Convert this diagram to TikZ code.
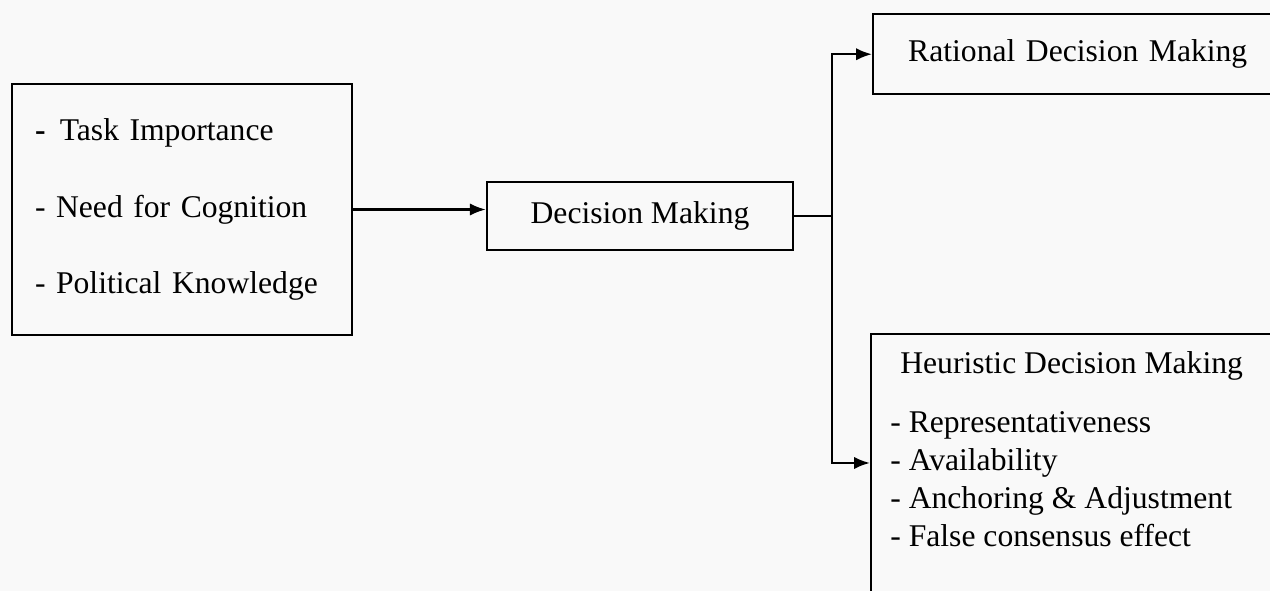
\documentclass[tikz,border=0pt]{standalone}
\usepackage{fontspec}
\setmainfont{Liberation Serif}
\usetikzlibrary{positioning,arrows.meta}

\begin{document}
\begin{tikzpicture}[x=0.02cm, y=-0.02cm, >={Latex[length=9pt,width=7pt]},
          font=\fontsize{18}{21.6}\selectfont,
          bx/.style={draw, line width=1.4pt, inner sep=0pt},
          ln/.style={line width=1.4pt}]
        \fill[gray!5] (0,0) rectangle (1270,591);
        \useasboundingbox (0,0) rectangle (1270,591);
        % factors
        \node[bx, inner xsep=0.46cm, text width=5.88cm, minimum height=5.02cm, align=left] (fac) at (182,209.5)
          {\textbf{-}\hspace{0.45em}Task Importance\\[22pt]- Need for Cognition\\[22pt]- Political Knowledge};
        \node[bx, minimum width=6.12cm, minimum height=1.36cm] (dm) at (640,216) {Decision Making};
        \node[bx, anchor=north west, inner xsep=0.7cm, text width=6.96cm, minimum height=1.6cm, align=left] (rdm) at (872,13)
          {Rational Decision Making};
        \node[bx, anchor=north west, minimum width=8.4cm, minimum height=5.8cm] (hdm) at (870,333) {};
        \node[anchor=north west, inner sep=0pt, align=left] (hdmtxt) at ([xshift=0.4cm,yshift=-0.36cm]hdm.north west)
          {\hspace*{0.2cm}Heuristic Decision Making\\[12pt]
           - Representativeness\\
           - Availability\\
           - Anchoring \& Adjustment\\
           - False consensus effect};
        % connectors
        \draw[ln, ->] (fac.east) -- (fac.east -| dm.west);
        \draw[ln] (dm.east) -- ++(38,0) coordinate (sp);
        \draw[ln, ->] (sp) |- (rdm.west);
        \draw[ln, ->] (sp) |- ([yshift=-2.6cm]hdm.north west);
      \end{tikzpicture}
\end{document}
